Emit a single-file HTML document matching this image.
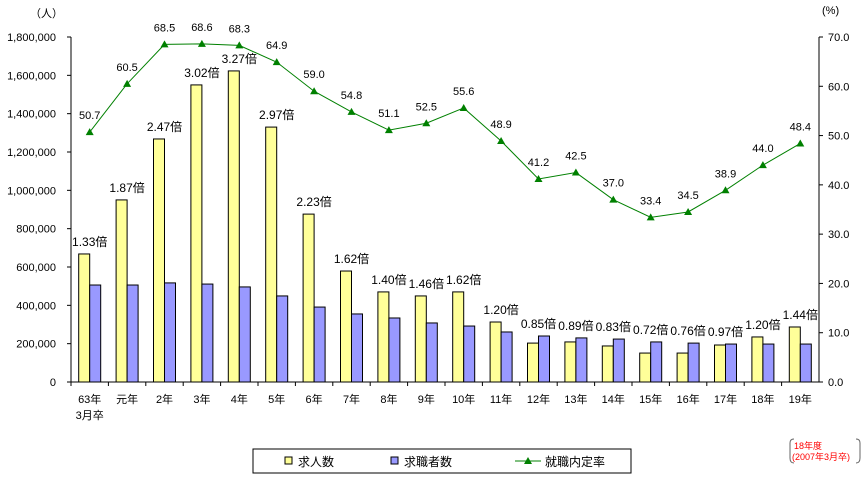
<!DOCTYPE html>
<html><head><meta charset="utf-8"><style>
body{margin:0;background:#fff;}
svg text{font-family:"Liberation Sans","Noto Sans CJK JP",sans-serif;}
</style></head><body>
<svg id="chart" width="865" height="479" xmlns="http://www.w3.org/2000/svg"></svg>
<script>
const categories=["63年|3月卒","元年","2年","3年","4年","5年","6年","7年","8年","9年","10年","11年","12年","13年","14年","15年","16年","17年","18年","19年"];
const offers=[668000,950000,1268000,1550000,1623000,1330000,876000,579000,470000,449000,470000,313000,203000,209000,188000,151000,151000,193000,235000,287000];
const seekers=[506000,506000,517000,511000,496000,449000,391000,355000,334000,308000,292000,261000,240000,230000,224000,209000,203000,198000,198000,198000];
const ratios=["1.33倍","1.87倍","2.47倍","3.02倍","3.27倍","2.97倍","2.23倍","1.62倍","1.40倍","1.46倍","1.62倍","1.20倍","0.85倍","0.89倍","0.83倍","0.72倍","0.76倍","0.97倍","1.20倍","1.44倍"];
const rates=[50.7,60.5,68.5,68.6,68.3,64.9,59.0,54.8,51.1,52.5,55.6,48.9,41.2,42.5,37.0,33.4,34.5,38.9,44.0,48.4];
const leftTicks=["0","200,000","400,000","600,000","800,000","1,000,000","1,200,000","1,400,000","1,600,000","1,800,000"];
const rightTicks=["0.0","10.0","20.0","30.0","40.0","50.0","60.0","70.0"];
const NS="http://www.w3.org/2000/svg";
const svg=document.getElementById('chart');
const X0=71,X1=819,Y0=382,Y1=37;
const cw=(X1-X0)/categories.length;
const yL=v=>Y0-(v/1800000)*(Y0-Y1);
const yR=v=>Y0-(v/70)*(Y0-Y1);
const cx=i=>X0+cw*(i+0.5);
function mk(t,a,p){const e=document.createElementNS(NS,t);for(const k in a)e.setAttribute(k,a[k]);(p||svg).appendChild(e);return e;}
function txt(s,a){const e=mk('text',a);e.textContent=s;return e;}
// axes
let e=mk('line',{x1:X0,y1:Y1,x2:X0,y2:Y0,stroke:'#000'});

e=mk('line',{x1:X1,y1:Y1,x2:X1,y2:Y0,stroke:'#000'});

e=mk('line',{x1:X0,y1:Y0,x2:X1,y2:Y0,stroke:'#000'});

leftTicks.forEach((t,i)=>{const y=yL(i*200000);mk('line',{x1:X0-4,y1:y,x2:X0,y2:y,stroke:'#000'});
e=txt(t,{x:X0-15,y:y+4,'text-anchor':'end','font-size':11});
});
rightTicks.forEach((t,i)=>{const y=yR(i*10);mk('line',{x1:X1,y1:y,x2:X1+4,y2:y,stroke:'#000'});
e=txt(t,{x:X1+9,y:y+4,'font-size':11});
});
e=txt('（人）',{x:30,y:17,'font-size':11});
e=txt('(%)',{x:822,y:14,'font-size':11});
categories.forEach((c,i)=>{
 mk('line',{x1:X0+cw*i,y1:Y0,x2:X0+cw*i,y2:Y0+4,stroke:'#000'});
 const parts=c.split('|');
 parts.forEach((p,j)=>{e=txt(p,{x:cx(i),y:Y0+21+j*16,'text-anchor':'middle','font-size':11});
 });
 const bw=11;
 e=mk('rect',{x:cx(i)-bw,y:yL(offers[i]),width:bw,height:Y0-yL(offers[i]),fill:'#ffff99',stroke:'#000'});
 
 e=mk('rect',{x:cx(i),y:yL(seekers[i]),width:bw,height:Y0-yL(seekers[i]),fill:'#9999ff',stroke:'#000'});
 
 e=txt(ratios[i],{x:cx(i),y:yL(Math.max(offers[i],seekers[i]))-8,'text-anchor':'middle','font-size':12});
 
});
e=mk('polyline',{points:rates.map((r,i)=>cx(i)+','+yR(r)).join(' '),fill:'none',stroke:'#008000'});

rates.forEach((r,i)=>{const x=cx(i),y=yR(r);
 e=mk('polygon',{points:`${x},${y-4} ${x-4},${y+3} ${x+4},${y+3}`,fill:'#008000'});
 
 e=txt(r.toFixed(1),{x:x,y:y-13,'text-anchor':'middle','font-size':11});
 });
// legend
const lg=mk('g',{});
mk('rect',{x:253,y:449,width:378,height:24,fill:'#fff',stroke:'#000'},lg);
e=mk('rect',{x:285,y:457,width:7,height:7,fill:'#ffff99',stroke:'#000'},lg);

e=txt('求人数',{x:298,y:466,'font-size':12});lg.appendChild(e);
e=mk('rect',{x:391,y:457,width:7,height:7,fill:'#9999ff',stroke:'#000'},lg);

e=txt('求職者数',{x:404,y:466,'font-size':12});lg.appendChild(e);
mk('line',{x1:515,y1:461,x2:541,y2:461,stroke:'#008000'},lg);
mk('polygon',{points:'528,457 524,464 532,464',fill:'#008000'},lg);
e=txt('就職内定率',{x:545,y:466,'font-size':12});lg.appendChild(e);
// note
e=txt('18年度',{x:794,y:449,'font-size':9,fill:'#f00'});
e=txt('(2007年3月卒)',{x:792,y:460,'font-size':9,fill:'#f00'});
mk('path',{d:'M794,439 Q790,439 790,443 L790,458 Q790,463 794,463',fill:'none',stroke:'#666'});
mk('path',{d:'M856,439 Q860,439 860,443 L860,458 Q860,463 856,463',fill:'none',stroke:'#666'});
</script>
</body></html>
